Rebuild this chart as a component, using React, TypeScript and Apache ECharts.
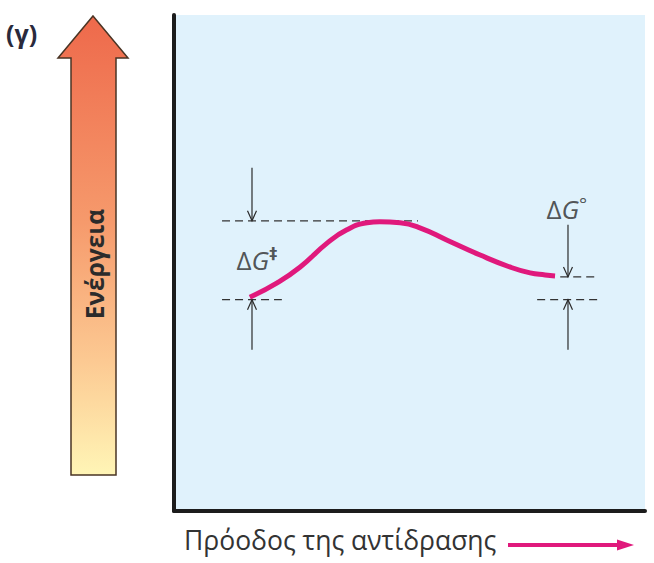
import React, { useEffect, useRef } from "react";
import * as echarts from "echarts";

// Reaction coordinate profile (x: progress 0-100, y: energy 0-100)
const curveX = [16.1, 21.9, 26.8, 32.5, 36.7, 41.0, 43.7, 48.0, 52.2, 58.0, 65.0, 71.3, 75.6, 78.8, 80.9];
const curveY = [43.1, 46.0, 49.2, 54.0, 56.7, 58.1, 58.3, 58.1, 57.1, 54.6, 51.6, 49.2, 48.0, 47.6, 47.4];

// Energy levels
const reactantLevel = 42.6;
const transitionLevel = 58.5;
const productLevel = 47.2;

// Dashed guide segments: [xStart, xEnd, level]
const dashSegments: [number, number, number][] = [
  [10.2, 51.8, transitionLevel],
  [10.2, 22.9, reactantLevel],
  [82.0, 90.0, productLevel],
  [77.1, 90.4, reactantLevel],
];

// Dimension arrows: [x, yFrom, yTo] (arrow head at yTo)
const dimArrows: [number, number, number][] = [
  [16.56, 69.2, transitionLevel],
  [16.56, 32.5, reactantLevel],
  [83.65, 57.7, productLevel],
  [83.65, 32.5, reactantLevel],
];

// Labels: [x, y, text]
const labelPoints: [number, number, string][] = [
  [17.6, 50.6, "{d|Δ}{g|G}{s|‡}"],
  [83.4, 60.8, "{d|Δ}{g|G}{o|°}"],
];

const yLabel = "Ενέργεια";
const xLabel = "Πρόοδος της αντίδρασης";
const panelLabel = "(γ)";

const FONT = "'Open Sans', 'Noto Sans', sans-serif";
const TEXT = "#2b2b2b";
const PINK = "#e0197c";

export default function App() {
  const ref = useRef<HTMLDivElement>(null);

  useEffect(() => {
    if (!ref.current) return;
    const chart = echarts.init(ref.current, undefined, { renderer: "svg" });

    const dashSeries = dashSegments.map((s) => ({
      type: "line" as const,
      data: [
        [s[0], s[2]],
        [s[1], s[2]],
      ],
      symbol: "none",
      silent: true,
      lineStyle: { color: "#333", width: 1.2, type: [8, 5] as any },
      z: 3,
    }));

    const option: any = {
      animation: false,
      backgroundColor: "#ffffff",
      grid: {
        left: 174,
        top: 15,
        right: 9,
        height: 496,
        show: true,
        backgroundColor: "#e0f2fc",
        borderWidth: 0,
      },
      xAxis: {
        type: "value",
        min: 0,
        max: 100,
        axisLine: { show: true, onZero: false, lineStyle: { color: "#1c1c1c", width: 4 } },
        axisTick: { show: false },
        axisLabel: { show: false },
        splitLine: { show: false },
      },
      yAxis: {
        type: "value",
        min: 0,
        max: 100,
        axisLine: { show: true, onZero: false, lineStyle: { color: "#1c1c1c", width: 4 } },
        axisTick: { show: false },
        axisLabel: { show: false },
        splitLine: { show: false },
      },
      series: [
        ...dashSeries,
        {
          type: "custom",
          data: dimArrows,
          z: 4,
          renderItem: (params: any, api: any) => {
            const x = api.value(0);
            const p1 = api.coord([x, api.value(1)]);
            const p2 = api.coord([x, api.value(2)]);
            const dir = p2[1] > p1[1] ? 1 : -1;
            const hl = 10;
            const hw = 4.5;
            return {
              type: "group",
              children: [
                {
                  type: "line",
                  shape: { x1: p1[0], y1: p1[1], x2: p2[0], y2: p2[1] },
                  style: { stroke: "#2b2b2b", lineWidth: 1.2 },
                },
                {
                  type: "polyline",
                  shape: {
                    points: [
                      [p2[0] - hw, p2[1] - dir * hl],
                      [p2[0], p2[1]],
                      [p2[0] + hw, p2[1] - dir * hl],
                    ],
                  },
                  style: { stroke: "#2b2b2b", lineWidth: 1.2, fill: "none" },
                },
              ],
            };
          },
        },
        {
          type: "line",
          data: curveX.map((x, i) => [x, curveY[i]]),
          smooth: 0.5,
          symbol: "none",
          lineStyle: { color: PINK, width: 5, cap: "butt" },
          z: 5,
        },
        {
          type: "scatter",
          data: labelPoints.map((p) => [p[0], p[1], p[2]]),
          symbolSize: 0,
          z: 6,
          label: {
            show: true,
            position: "inside",
            formatter: (p: any) => p.data[2],
            rich: {
              d: { fontSize: 26, fontFamily: FONT, color: TEXT, lineHeight: 30 },
              g: { fontSize: 26, fontFamily: FONT, fontStyle: "italic", color: TEXT, lineHeight: 30 },
              s: { fontSize: 16, fontFamily: "'DejaVu Sans', sans-serif", fontWeight: "bold", color: TEXT, lineHeight: 20, verticalAlign: "top" },
              o: { fontSize: 19, fontFamily: FONT, color: TEXT, lineHeight: 22, verticalAlign: "top" },
            },
          },
        },
      ],
      graphic: [
        {
          type: "polygon",
          shape: {
            points: [
              [93, 16],
              [128, 58],
              [116, 58],
              [116, 475],
              [71, 475],
              [71, 58],
              [58, 58],
            ],
          },
          style: {
            fill: new echarts.graphic.LinearGradient(0, 0, 0, 1, [
              { offset: 0, color: "#ee694b" },
              { offset: 0.45, color: "#f69a6c" },
              { offset: 0.75, color: "#fcc992" },
              { offset: 1, color: "#fff5b6" },
            ]),
            stroke: "#4a3424",
            lineWidth: 1.5,
          },
        },
        {
          type: "text",
          x: 94,
          y: 264,
          rotation: Math.PI / 2,
          style: {
            text: yLabel,
            fontSize: 24.5,
            fontWeight: "bold",
            fontFamily: FONT,
            fill: TEXT,
            align: "center",
            verticalAlign: "middle",
          },
        },
        {
          type: "text",
          x: 6,
          y: 33,
          style: {
            text: panelLabel,
            fontSize: 25,
            fontWeight: "bold",
            fontFamily: FONT,
            fill: "#2a2a3c",
            align: "left",
            verticalAlign: "middle",
          },
        },
        {
          type: "text",
          x: 184,
          y: 540,
          style: {
            text: xLabel,
            fontSize: 26.5,
            fontFamily: FONT,
            fill: "#333333",
            align: "left",
            verticalAlign: "middle",
          },
        },
        {
          type: "line",
          shape: { x1: 508, y1: 545, x2: 622, y2: 545 },
          style: { stroke: PINK, lineWidth: 4 },
        },
        {
          type: "polygon",
          shape: { points: [[617, 539.5], [634, 545], [617, 550.5]] },
          style: { fill: PINK },
        },
      ],
    };

    chart.setOption(option);
    return () => chart.dispose();
  }, []);

  return (
    <div
      ref={ref}
      style={{ position: "absolute", left: 0, top: 0, width: 654, height: 563 }}
    />
  );
}
